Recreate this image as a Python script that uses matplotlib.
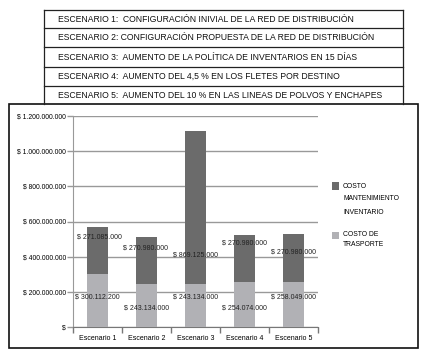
import matplotlib
matplotlib.use('Agg')
import matplotlib.pyplot as plt
from matplotlib.lines import Line2D
from matplotlib.patches import Rectangle
import numpy as np

plt.rcParams['font.family'] = ['Liberation Sans', 'DejaVu Sans']

# Data
categories   = ['Escenario 1', 'Escenario 2', 'Escenario 3', 'Escenario 4', 'Escenario 5']
transporte   = [300112200, 243134000, 243134000, 254074000, 258049000]
inventario   = [271085000, 270980000, 869125000, 270980000, 270980000]
y_ticks      = [0, 200e6, 400e6, 600e6, 800e6, 1000e6, 1200e6]
y_ticklabels = ['$', '$ 200.000.000', '$ 400.000.000', '$ 600.000.000',
                '$ 800.000.000', '$ 1.000.000.000', '$ 1.200.000.000']
escenarios   = [
    'ESCENARIO 1:  CONFIGURACIÓN INIVIAL DE LA RED DE DISTRIBUCIÓN',
    'ESCENARIO 2: CONFIGURACIÓN PROPUESTA DE LA RED DE DISTRIBUCIÓN',
    'ESCENARIO 3:  AUMENTO DE LA POLÍTICA DE INVENTARIOS EN 15 DÍAS',
    'ESCENARIO 4:  AUMENTO DEL 4,5 % EN LOS FLETES POR DESTINO',
    'ESCENARIO 5:  AUMENTO DEL 10 % EN LAS LINEAS DE POLVOS Y ENCHAPES',
]

def fmt(v):
    return '$ ' + f'{v:,.0f}'.replace(',', '.')

W, H = 430, 353
DARK = '#6b6b6b'
LIGHT = '#b1b1b5'

fig = plt.figure(figsize=(W / 100, H / 100), dpi=100)

def fx(px):
    return px / W

def fy(py):
    return 1 - py / H

# scenario table on top
row_lines = [10, 28, 47, 67, 86]
for yy in row_lines:
    fig.add_artist(Line2D([fx(44), fx(403)], [fy(yy), fy(yy)], color='#222222', lw=0.9))
fig.add_artist(Line2D([fx(44), fx(44)], [fy(10), fy(104)], color='#222222', lw=0.9))
fig.add_artist(Line2D([fx(403), fx(403)], [fy(10), fy(104)], color='#222222', lw=0.9))
row_centers = [19, 38, 57, 76, 95]
for txt, yy in zip(escenarios, row_centers):
    fig.text(fx(58), fy(yy), txt, fontsize=6.25, va='center', ha='left', color='#111111')

# chart frame (drawn behind the axes)
frame = Rectangle((fx(9), fy(348)), fx(418) - fx(9), fy(104) - fy(348),
                  fill=True, facecolor='white', edgecolor='#111111', lw=1.2, zorder=-5)
fig.add_artist(frame)

ax = fig.add_axes([fx(73), fy(327), fx(318) - fx(73), fy(116) - fy(327)])
ax.set_zorder(5)
x = np.arange(len(categories))
ax.bar(x, transporte, width=0.41, color=LIGHT, zorder=3)
ax.bar(x, inventario, width=0.41, bottom=transporte, color=DARK, zorder=3)

ax.set_xlim(-0.5, len(categories) - 0.5)
ax.set_ylim(0, 1.2e9)
ax.set_yticks(y_ticks)
ax.set_yticklabels(y_ticklabels, fontsize=4.9)
ax.yaxis.grid(True, color='#999999', lw=1.0, zorder=0)
ax.set_xticks(np.arange(-0.5, len(categories), 1.0))
ax.set_xticklabels([])
ax.set_xticks(x, minor=True)
ax.set_xticklabels(categories, minor=True, fontsize=5)
ax.tick_params(axis='x', which='major', length=4, color='#777777', width=1)
ax.tick_params(axis='x', which='minor', length=0, pad=6)
ax.tick_params(axis='y', length=4, color='#999999', width=1, pad=1)
for s in ['top', 'right']:
    ax.spines[s].set_visible(False)
ax.spines['left'].set_color('#999999')
ax.spines['bottom'].set_color('#777777')
ax.set_facecolor('none')

# data labels (staggered like the original)
top_label_y = [512e6, 449e6, 409e6, 478e6, 427e6]
bot_label_y = [171e6, 108e6, 171e6, 108e6, 171e6]
top_label_dx = [0.04, -0.03, 0.0, 0.0, 0.0]
for i in range(len(categories)):
    ax.text(x[i] + top_label_dx[i], top_label_y[i], fmt(inventario[i]), fontsize=5.0,
            ha='center', va='center', color='#222222', zorder=4, clip_on=False)
    ax.text(x[i], bot_label_y[i], fmt(transporte[i]), fontsize=5.0,
            ha='center', va='center', color='#222222', zorder=4, clip_on=False)

# legend
fig.add_artist(Rectangle((fx(332), fy(190)), fx(339) - fx(332), fy(182) - fy(190),
                         facecolor=DARK, edgecolor='none'))
fig.text(fx(343), fy(186), 'COSTO', fontsize=4.9, va='center')
fig.text(fx(343), fy(199), 'MANTENIMIENTO', fontsize=4.9, va='center')
fig.text(fx(343), fy(212), 'INVENTARIO', fontsize=4.9, va='center')
fig.add_artist(Rectangle((fx(332), fy(239)), fx(339) - fx(332), fy(232) - fy(239),
                         facecolor=LIGHT, edgecolor='none'))
fig.text(fx(343), fy(235), 'COSTO DE', fontsize=4.9, va='center')
fig.text(fx(343), fy(245), 'TRASPORTE', fontsize=4.9, va='center')

fig.savefig('out.png', dpi=100)
